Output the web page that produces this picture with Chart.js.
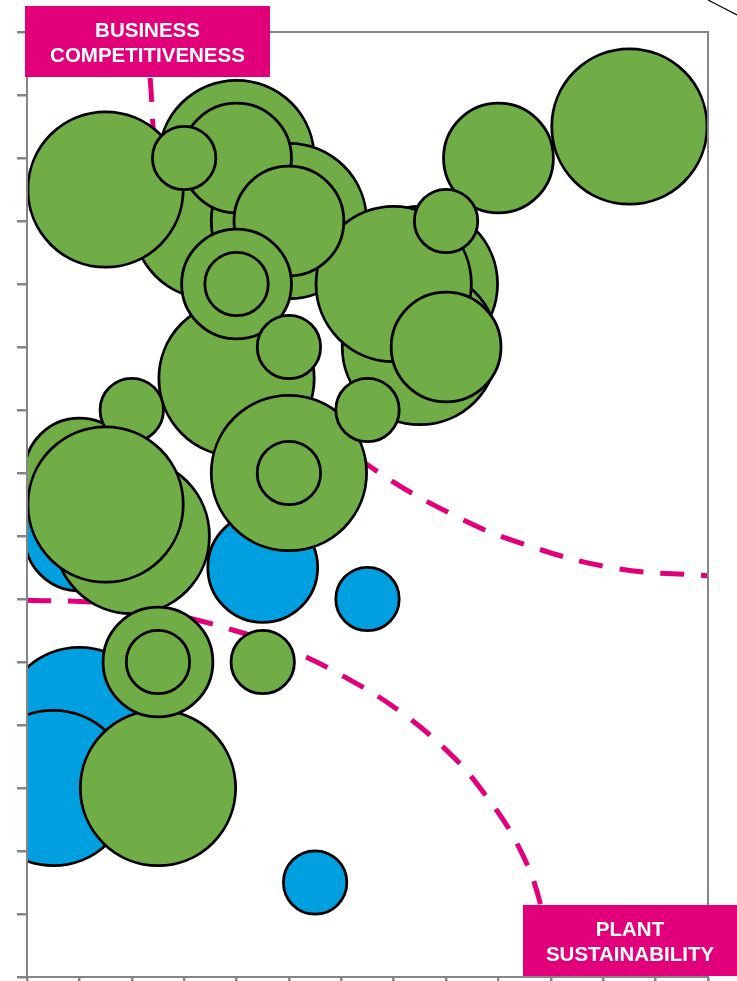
<!DOCTYPE html>
<html>
<head>
<meta charset="utf-8">
<style>
  html, body { margin: 0; padding: 0; background: #ffffff; }
  canvas { display: block; }
</style>
<script src="https://cdn.jsdelivr.net/npm/chart.js@4.4.1/dist/chart.umd.min.js"></script>
</head>
<body>
<canvas id="chart" width="737" height="981"></canvas>
<script>
// Grid extent (unlabelled axes)
const xMax = 13;
const yMax = 15;

// Green plants: position and relative bubble size (1 / 3 / 6), drawn in this order
const greenX    = [4,  3.5, 1.5,  5,  7.5, 7.5, 7,  4,   11.5, 5, 2, 2.5,  4,  5,  4,  9,  8,  1, 2.5,  3,  8,  4,  5,  2, 6.5, 5, 2.5, 4.5,  1.5];
const greenY    = [13, 12,  12.5, 12, 11,  10,  11, 9.5, 13.5, 8, 7, 3,    13, 12, 11, 13, 10, 8, 5,    13, 12, 11, 10, 9, 9,   8, 5,   5,    7.5];
const greenSize = [6,  6,   6,    6,  6,   6,   6,  6,   6,    6, 6, 6,    3,  3,  3,  3,  3,  3, 3,    1,  1,  1,  1,  1, 1,   1, 1,   1,    6];

// Blue plants
const blueX    = [1, 0.5, 1, 4.5, 6.5, 5.5];
const blueY    = [4, 3,   7, 6.5, 6,   1.5];
const blueSize = [6, 6,   3, 3,   1,   1];

// Dashed guide: business competitiveness frontier
const competitivenessX = [2.35, 2.50, 3.00, 3.78, 4.85, 6.59, 8.17, 9.41, 11.21, 13.0];
const competitivenessY = [14.27, 12.89, 11.57, 10.35, 9.24, 8.08, 7.32, 6.89, 6.49, 6.37];

// Dashed guide: plant sustainability frontier
const sustainabilityX = [0, 1.39, 2.63, 3.88, 5.02, 6.07, 7.08, 7.98, 8.65, 9.39, 9.83, 9.98];
const sustainabilityY = [5.98, 5.94, 5.78, 5.52, 5.19, 4.76, 4.24, 3.62, 3.00, 2.06, 1.06, 0.03];

// Corner labels
const topLabel = ['BUSINESS', 'COMPETITIVENESS'];
const bottomLabel = ['PLANT', 'SUSTAINABILITY'];

const GREEN = '#70AD47';
const BLUE = '#009FE0';
const MAGENTA = '#E2007A';
const AXIS = '#858585';
const RADIUS_UNIT = 31.7; // pixel radius of a size-1 bubble

function bubbles(xs, ys, sizes) {
  return xs.map((x, i) => ({ x: x, y: ys[i], r: RADIUS_UNIT * Math.sqrt(sizes[i]) }));
}
function points(xs, ys) {
  return xs.map((x, i) => ({ x: x, y: ys[i] }));
}

// Frame around the plot, on top of the bubbles
const framePlugin = {
  id: 'frame',
  afterDatasetsDraw(chart) {
    const a = chart.chartArea;
    const ctx = chart.ctx;
    ctx.save();
    ctx.strokeStyle = AXIS;
    ctx.lineWidth = 2;
    ctx.strokeRect(a.left, a.top, a.right - a.left, a.bottom - a.top);
    ctx.restore();
  }
};

// Magenta callout boxes and the stray connector in the corner
const calloutPlugin = {
  id: 'callouts',
  afterDraw(chart) {
    const ctx = chart.ctx;
    const a = chart.chartArea;
    ctx.save();

    // connector stub at the top right
    ctx.strokeStyle = '#000000';
    ctx.lineWidth = 1.2;
    ctx.beginPath();
    ctx.moveTo(a.right, 0);
    ctx.lineTo(chart.width, 15);
    ctx.stroke();

    ctx.font = "bold 20.5px 'Liberation Sans', Arial, sans-serif";
    ctx.textAlign = 'center';
    ctx.textBaseline = 'alphabetic';

    // top-left box
    ctx.fillStyle = MAGENTA;
    ctx.fillRect(a.left - 2, 6, 245, 71);
    ctx.fillStyle = '#ffffff';
    ctx.fillText(topLabel[0], a.left - 2 + 122.5, 37);
    ctx.fillText(topLabel[1], a.left - 2 + 122.5, 62);

    // bottom-right box
    const bx = 523;
    ctx.fillStyle = MAGENTA;
    ctx.fillRect(bx, 905, chart.width - bx, a.bottom - 1 - 905);
    ctx.fillStyle = '#ffffff';
    ctx.fillText(bottomLabel[0], (bx + chart.width) / 2, 936);
    ctx.fillText(bottomLabel[1], (bx + chart.width) / 2, 961);

    ctx.restore();
  }
};

const guideStyle = {
  type: 'line',
  borderColor: MAGENTA,
  borderWidth: 5,
  borderDash: [24, 17],
  pointRadius: 0,
  pointHoverRadius: 0,
  tension: 0.4,
  fill: false,
  order: 3
};

new Chart(document.getElementById('chart'), {
  type: 'bubble',
  data: {
    datasets: [
      Object.assign({ label: 'Competitiveness', data: points(competitivenessX, competitivenessY) }, guideStyle),
      Object.assign({ label: 'Sustainability', data: points(sustainabilityX, sustainabilityY) }, guideStyle),
      {
        label: 'Blue',
        data: bubbles(blueX, blueY, blueSize),
        backgroundColor: BLUE,
        borderColor: '#000000',
        borderWidth: 2.8,
        hoverRadius: 0,
        clip: 0,
        order: 2
      },
      {
        label: 'Green',
        data: bubbles(greenX, greenY, greenSize),
        backgroundColor: GREEN,
        borderColor: '#000000',
        borderWidth: 2.8,
        hoverRadius: 0,
        clip: 0,
        order: 1
      }
    ]
  },
  options: {
    responsive: false,
    animation: false,
    events: [],
    layout: { autoPadding: false, padding: { left: 17, top: 32, right: 29, bottom: 0 } },
    plugins: {
      legend: { display: false },
      tooltip: { enabled: false }
    },
    scales: {
      x: {
        type: 'linear',
        min: 0,
        max: xMax,
        ticks: { display: false, stepSize: 1 },
        grid: { drawOnChartArea: false, drawTicks: true, tickLength: 4, color: AXIS, lineWidth: 2.5 },
        border: { display: false },
        afterFit(scale) { scale.height = 4; }
      },
      y: {
        type: 'linear',
        min: 0,
        max: yMax,
        ticks: { display: false, stepSize: 1 },
        grid: { drawOnChartArea: false, drawTicks: true, tickLength: 10, color: AXIS, lineWidth: 2.5 },
        border: { display: false },
        afterFit(scale) { scale.width = 10; }
      }
    }
  },
  plugins: [framePlugin, calloutPlugin]
});
</script>
</body>
</html>
